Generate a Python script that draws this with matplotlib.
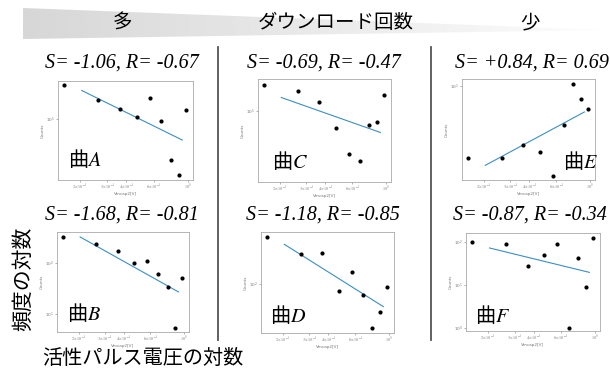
import numpy as np
import matplotlib
matplotlib.use('Agg')
import matplotlib.pyplot as plt
from matplotlib.patches import Polygon
from matplotlib.lines import Line2D

plt.rcParams['mathtext.fontset'] = 'stix'
cjk = ['Noto Sans CJK JP', 'DejaVu Sans']

# voltage bins (x) shared by all panels
volts = [0.157, 0.262, 0.365, 0.468, 0.57, 0.673, 0.778, 0.878, 0.975]

counts_A = [31.3, 18.7, 13.8, 10.6, 20.1, 9.4, 2.6, 1.6, 13.5]
counts_B = [331, 240, 176, 100, 113, 61, 33, 5.2, 50]
counts_C = [20.1, 17.0, 12.8, 6.3, 3.2, 2.6, 6.9, 7.4, 15.2]
counts_D = [378, 234, 239, 82, 138, 72, 28.6, 45, 91]
counts_E = [1.85, 1.85, 2.52, 2.13, 1.22, 4.02, 10.3, 7.4, 5.85]
counts_F = [100, 92, 27.7, 50, 88.5, 1.0, 42.5, 9.0, 126]

curve_names = ['A', 'B', 'C', 'D', 'E', 'F']
slopes = [-1.06, -1.68, -0.69, -1.18, 0.84, -0.87]
corrs = [-0.67, -0.81, -0.47, -0.85, 0.69, -0.34]
fit_range = [0.205, 0.92]

xtick_vals = [0.2, 0.3, 0.4, 0.6, 1.0]
xtick_labels = [r'$2\times10^{-1}$', r'$3\times10^{-1}$', r'$4\times10^{-1}$',
                r'$6\times10^{-1}$', r'$10^{0}$']

header = ['多', 'ダウンロード回数', '少']

W, H = 610, 368
fig = plt.figure(figsize=(6.1, 3.68), dpi=100)

# background layer in pixel coords for the banner and separators
bg = fig.add_axes([0, 0, 1, 1], zorder=-1)
bg.set_xlim(0, W)
bg.set_ylim(H, 0)
bg.axis('off')
wedge = Polygon([(23, 8), (605, 30), (23, 39)], closed=True, facecolor='none', edgecolor='none')
bg.add_patch(wedge)
grad = np.linspace(0.84, 0.99, 256).reshape(1, -1)
im = bg.imshow(grad, cmap='gray', vmin=0, vmax=1, extent=[23, 605, 39, 8], aspect='auto')
im.set_clip_path(wedge)
bg.set_xlim(0, W)
bg.set_ylim(H, 0)

bg.text(122, 23, header[0], fontsize=14, family=cjk, ha='center', va='center')
bg.text(336, 23, header[1], fontsize=14, family=cjk, ha='center', va='center')
bg.text(530, 23, header[2], fontsize=14, family=cjk, ha='center', va='center')

for xs in [218, 431]:
    bg.add_line(Line2D([xs, xs], [47, 340], color='#555555', lw=1.3))

bg.text(23, 279, '頻度の対数', fontsize=15, family=cjk, rotation=90, ha='center', va='center')
bg.text(143, 358, '活性パルス電圧の対数', fontsize=14.5, family=cjk, ha='center', va='center')


def box(x0, y0, x1, y1):
    return [x0 / W, 1 - y1 / H, (x1 - x0) / W, (y1 - y0) / H]


panels = {
    'A': dict(counts=counts_A, box=(58, 81, 193, 180), ylim=(1.35, 35.3), title=(122, 63), lab=(68, 160)),
    'B': dict(counts=counts_B, box=(57, 232, 189, 332), ylim=(4.3, 417), title=(122, 215), lab=(67, 314)),
    'C': dict(counts=counts_C, box=(258, 79, 391, 182), ylim=(1.5, 23.4), title=(324, 63), lab=(272, 161)),
    'D': dict(counts=counts_D, box=(261, 232, 394, 333), ylim=(24.5, 437), title=(323, 215), lab=(270, 315)),
    'E': dict(counts=counts_E, box=(462, 79, 595, 180), ylim=(1.11, 11.7), title=(532, 63), lab=(563, 161)),
    'F': dict(counts=counts_F, box=(466, 233, 600, 331), ylim=(0.84, 162), title=(530, 215), lab=(475, 316)),
}

for i, name in enumerate(curve_names):
    p = panels[name]
    ax = fig.add_axes(box(*p['box']))
    ax.set_xscale('log')
    ax.set_yscale('log')
    ax.scatter(volts, p['counts'], s=4, color='black', zorder=3)
    k, b = np.polyfit(np.log10(volts), np.log10(p['counts']), 1)
    fx = np.array(fit_range)
    ax.plot(fx, 10 ** (k * np.log10(fx) + b), color='#3b8fc4', lw=0.8)
    ax.set_xlim(0.144, 1.08)
    ax.set_ylim(*p['ylim'])
    ax.set_xticks(xtick_vals)
    ax.set_xticklabels(xtick_labels)
    ax.xaxis.set_minor_locator(matplotlib.ticker.NullLocator())
    ax.yaxis.set_minor_locator(matplotlib.ticker.NullLocator())
    ax.tick_params(labelsize=3, length=1.5, width=0.4, colors='#777777', pad=0.5)
    ax.set_xlabel('Vmcap2[V]', fontsize=3, color='#777777', labelpad=0)
    ax.set_ylabel('Counts', fontsize=3, color='#777777', labelpad=1)
    for sp in ax.spines.values():
        sp.set_color('#aaaaaa')
        sp.set_linewidth(0.6)

    tx, ty = p['title']
    bg.text(tx, ty, f'S= {slopes[i]:+.2f}, R= {corrs[i]:.2f}',
            fontsize=14.5, family='Liberation Serif', style='italic', ha='center', va='center')
    lx, ly = p['lab']
    # curve label sits on top of the panel axes
    fig.text(lx / W, 1 - ly / H, '曲$' + name + '$', fontsize=14.5, family=cjk,
             ha='left', va='center', zorder=10)

fig.savefig('out.png', dpi=100)
